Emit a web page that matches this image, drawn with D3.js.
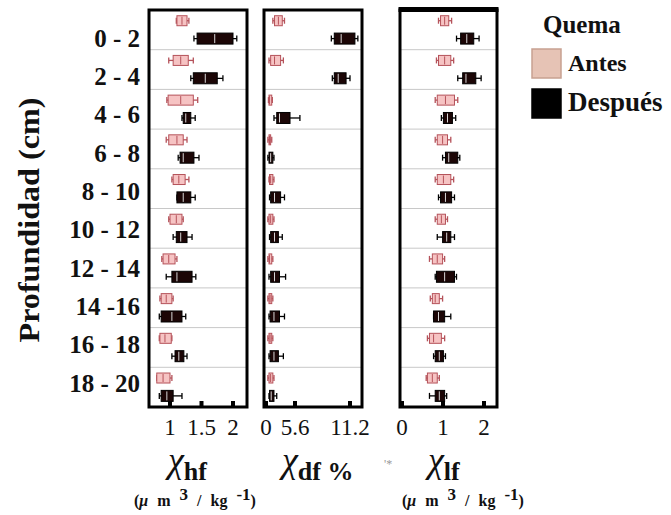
<!DOCTYPE html>
<html>
<head>
<meta charset="utf-8">
<script src="https://cdn.jsdelivr.net/npm/d3@7"></script>
<style>
  body { margin: 0; background: #fff; }
</style>
</head>
<body>
<div id="wrapper"></div>
<script>
const depths = ["0 - 2", "2 - 4", "4 - 6", "6 - 8", "8 - 10", "10 - 12", "12 - 14", "14 -16", "16 - 18", "18 - 20"];

// each entry: [min, q1, median, q3, max]
const hf_antes = [
    [1.10, 1.11, 1.19, 1.27, 1.30],
    [0.98, 1.05, 1.17, 1.29, 1.37],
    [0.95, 0.97, 1.17, 1.37, 1.44],
    [0.94, 0.98, 1.11, 1.21, 1.27],
    [1.03, 1.05, 1.14, 1.24, 1.30],
    [0.98, 1.00, 1.10, 1.19, 1.21],
    [0.87, 0.89, 0.98, 1.08, 1.11],
    [0.84, 0.86, 0.94, 1.03, 1.05],
    [0.83, 0.84, 0.92, 1.02, 1.03],
    [0.79, 0.79, 0.89, 1.00, 1.03]
];
const hf_despues = [
    [1.38, 1.43, 1.71, 2.00, 2.06],
    [1.33, 1.37, 1.56, 1.75, 1.84],
    [1.19, 1.21, 1.25, 1.33, 1.40],
    [1.13, 1.16, 1.21, 1.38, 1.46],
    [1.11, 1.11, 1.21, 1.33, 1.40],
    [1.05, 1.10, 1.17, 1.27, 1.35],
    [0.94, 1.03, 1.11, 1.35, 1.41],
    [0.83, 0.86, 1.03, 1.19, 1.25],
    [1.03, 1.08, 1.14, 1.22, 1.27],
    [0.83, 0.86, 0.95, 1.05, 1.19]
];
const df_antes = [
    [1.6, 1.9, 2.6, 3.3, 3.7],
    [0.9, 1.2, 1.9, 3.0, 3.5],
    [0.8, 0.9, 1.0, 1.4, 1.5],
    [0.7, 0.9, 1.0, 1.2, 1.4],
    [0.9, 1.0, 1.2, 1.6, 1.8],
    [0.7, 0.9, 1.2, 1.6, 1.8],
    [0.7, 0.9, 1.0, 1.4, 1.6],
    [0.7, 0.9, 1.1, 1.4, 1.6],
    [0.7, 0.9, 1.1, 1.4, 1.6],
    [0.7, 0.9, 1.2, 1.6, 1.8]
];
const df_despues = [
    [9.3, 9.6, 10.3, 11.7, 12.0],
    [9.4, 9.6, 10.0, 10.8, 11.2],
    [1.8, 2.3, 2.8, 4.7, 6.1],
    [0.7, 0.9, 1.2, 1.6, 1.8],
    [1.0, 1.2, 1.9, 3.0, 3.7],
    [1.0, 1.2, 1.9, 2.6, 3.3],
    [0.9, 1.2, 1.9, 2.8, 3.9],
    [0.9, 1.1, 1.8, 2.8, 3.7],
    [0.9, 1.1, 1.8, 2.6, 3.5],
    [0.9, 1.0, 1.3, 1.8, 2.3]
];
const lf_antes = [
    [0.89, 0.94, 1.04, 1.14, 1.21],
    [0.84, 0.89, 1.04, 1.19, 1.26],
    [0.81, 0.86, 1.06, 1.28, 1.36],
    [0.81, 0.86, 0.99, 1.11, 1.19],
    [0.81, 0.86, 1.01, 1.19, 1.26],
    [0.81, 0.86, 0.96, 1.06, 1.11],
    [0.67, 0.74, 0.86, 0.99, 1.04],
    [0.69, 0.74, 0.81, 0.91, 0.99],
    [0.62, 0.67, 0.77, 0.96, 1.04],
    [0.59, 0.62, 0.74, 0.86, 0.91]
];
const lf_despues = [
    [1.33, 1.43, 1.58, 1.75, 1.88],
    [1.36, 1.48, 1.56, 1.80, 1.93],
    [0.96, 1.01, 1.11, 1.23, 1.31],
    [0.99, 1.06, 1.14, 1.36, 1.41],
    [0.89, 0.94, 1.06, 1.21, 1.28],
    [0.86, 0.99, 1.09, 1.19, 1.28],
    [0.81, 0.84, 1.04, 1.28, 1.33],
    [0.77, 0.77, 0.89, 1.04, 1.19],
    [0.77, 0.81, 0.91, 1.01, 1.06],
    [0.67, 0.81, 0.91, 1.04, 1.09]
];

const hf_ticks = [1, 1.5, 2];
const df_ticks = [0, 5.6, 11.2];
const lf_ticks = [0, 1, 2];

const legend_labels = ["Antes", "Después"];

const width = 671, height = 515;
const plot_top = 10, plot_bottom = 407;
const serif = "'Liberation Serif', 'Times New Roman', Times, serif";

const svg = d3.select("#wrapper")
    .append("svg")
    .attr("width", width)
    .attr("height", height)
    .attr("font-family", serif)
    .style("display", "block");

const y_scale = d3.scaleBand()
    .domain(depths)
    .range([plot_top, plot_bottom]);

// depth labels are spaced a bit tighter than the rows
const label_scale = d3.scalePoint()
    .domain(depths)
    .range([38, 383]);

const antes_style = {fill: "#f6c3c3", stroke: "#b5525a", median: "#b5525a", whisker: "#b5525a", h: 10, pos: 0.27};
const despues_style = {fill: "#1c0606", stroke: "#000", median: "#d8d8d8", whisker: "#000", h: 11, pos: 0.72};

const panels = [
    {left: 149, right: 247, x: d3.scaleLinear().domain([1, 2]).range([170, 233]),
        ticks: hf_ticks, antes: hf_antes, despues: hf_despues},
    {left: 264, right: 362, x: d3.scaleLinear().domain([0, 5.6, 11.2]).range([264, 295, 350]),
        ticks: df_ticks, antes: df_antes, despues: df_despues},
    {left: 400, right: 497, x: d3.scaleLinear().domain([0, 2]).range([402, 484]),
        ticks: lf_ticks, antes: lf_antes, despues: lf_despues, thickTop: true}
];

function drawBoxes(g, x, data, s) {
    const groups = g.selectAll(null)
        .data(data)
        .enter()
        .append("g")
        .attr("transform", (d, i) => `translate(0, ${y_scale(depths[i]) + y_scale.bandwidth() * s.pos})`);

    groups.append("line")
        .attr("x1", d => x(d[0]))
        .attr("x2", d => x(d[4]))
        .attr("stroke", s.whisker)
        .attr("stroke-width", 1.3);
    groups.selectAll("line.cap")
        .data(d => [d[0], d[4]])
        .enter()
        .append("line")
        .attr("class", "cap")
        .attr("x1", v => x(v))
        .attr("x2", v => x(v))
        .attr("y1", -3)
        .attr("y2", 3)
        .attr("stroke", s.whisker)
        .attr("stroke-width", 1.3);
    groups.append("rect")
        .attr("x", d => x(d[1]))
        .attr("width", d => Math.max(1.5, x(d[3]) - x(d[1])))
        .attr("y", -s.h / 2)
        .attr("height", s.h)
        .attr("fill", s.fill)
        .attr("stroke", s.stroke)
        .attr("stroke-width", 1);
    groups.append("line")
        .attr("x1", d => x(d[2]))
        .attr("x2", d => x(d[2]))
        .attr("y1", -s.h / 2 + 1)
        .attr("y2", s.h / 2 - 1)
        .attr("stroke", s.median)
        .attr("stroke-width", 1);
}

panels.forEach(p => {
    const g = svg.append("g");

    // row separators
    g.selectAll("line.sep")
        .data(depths.slice(1))
        .enter()
        .append("line")
        .attr("x1", p.left)
        .attr("x2", p.right)
        .attr("y1", d => y_scale(d))
        .attr("y2", d => y_scale(d))
        .attr("stroke", "#c8c8c8")
        .attr("stroke-width", 1);

    drawBoxes(g, p.x, p.antes, antes_style);
    drawBoxes(g, p.x, p.despues, despues_style);

    g.append("rect")
        .attr("x", p.left)
        .attr("y", plot_top)
        .attr("width", p.right - p.left)
        .attr("height", plot_bottom - plot_top)
        .attr("fill", "none")
        .attr("stroke", "#000")
        .attr("stroke-width", 3);
    if (p.thickTop) {
        g.append("line")
            .attr("x1", p.left - 1.5)
            .attr("x2", p.right + 1.5)
            .attr("y1", plot_top - 0.5)
            .attr("y2", plot_top - 0.5)
            .attr("stroke", "#000")
            .attr("stroke-width", 5);
    }

    // inward ticks
    g.selectAll("rect.tick")
        .data(p.ticks)
        .enter()
        .append("rect")
        .attr("x", d => Math.max(p.left, p.x(d) - 2))
        .attr("y", plot_bottom - 6)
        .attr("width", 4)
        .attr("height", 6)
        .attr("fill", "#000");

    g.selectAll("text.tick")
        .data(p.ticks)
        .enter()
        .append("text")
        .attr("x", d => p.x(d) + (d === 0 && p.left === 264 ? 2 : 0))
        .attr("y", 435)
        .attr("text-anchor", "middle")
        .attr("font-size", 23)
        .attr("fill", "#111")
        .text(d => d);
});

// depth labels
svg.append("g")
    .selectAll("text")
    .data(depths)
    .enter()
    .append("text")
    .attr("x", 140)
    .attr("y", d => label_scale(d))
    .attr("dy", "0.35em")
    .attr("text-anchor", "end")
    .attr("font-size", 25)
    .attr("font-weight", "bold")
    .attr("fill", "#111")
    .text(d => d);

svg.append("text")
    .attr("transform", "translate(39, 220) rotate(-90)")
    .attr("text-anchor", "middle")
    .attr("font-size", 29)
    .attr("font-weight", "bold")
    .attr("fill", "#111")
    .attr("textLength", 245)
    .attr("lengthAdjust", "spacingAndGlyphs")
    .text("Profundidad (cm)");

// axis titles: chi symbol plus a bold subscript
function chiTitle(x, sub) {
    const chi = svg.append("text")
        .attr("x", x)
        .attr("y", 472)
        .attr("font-style", "italic")
        .attr("font-size", 36)
        .attr("fill", "#111")
        .text("χ");
    const chi_w = chi.node().getComputedTextLength();
    svg.append("text")
        .attr("x", x + chi_w)
        .attr("y", 480)
        .attr("font-weight", "bold")
        .attr("font-size", 26)
        .attr("fill", "#111")
        .text(sub);
}
chiTitle(168, "hf");
chiTitle(282, "df %");
chiTitle(428, "lf");

function unitsTitle(x) {
    const t = svg.append("text")
        .attr("x", x)
        .attr("y", 506)
        .attr("font-size", 16)
        .attr("font-weight", "bold")
        .attr("fill", "#111")
        .style("word-spacing", "5px");
    t.append("tspan").text("(");
    t.append("tspan").attr("font-style", "italic").text("μ");
    t.append("tspan").text(" m ");
    t.append("tspan").attr("dy", -6).attr("font-size", 17).text("3");
    t.append("tspan").attr("dy", 6).text(" / kg ");
    t.append("tspan").attr("dy", -6).attr("font-size", 17).text("-1");
    t.append("tspan").attr("dy", 6).text(")");
}
unitsTitle(134);
unitsTitle(402);

svg.append("text")
    .attr("x", 384)
    .attr("y", 468)
    .attr("font-size", 12)
    .attr("fill", "#999")
    .text("'*");

// legend
const legend = svg.append("g");
legend.append("text")
    .attr("x", 543)
    .attr("y", 33)
    .attr("font-size", 25)
    .attr("font-weight", "bold")
    .attr("fill", "#111")
    .text("Quema");

const legend_fill = ["#e6c3b5", "#000"];
const legend_stroke = ["#c7a191", "#000"];
const legend_size = [24, 27];
const legend_items = legend.selectAll("g")
    .data(legend_labels)
    .enter()
    .append("g")
    .attr("transform", (d, i) => `translate(0, ${49 + i * 40})`);
legend_items.append("rect")
    .attr("x", 532)
    .attr("y", 0)
    .attr("width", 29)
    .attr("height", 29)
    .attr("fill", (d, i) => legend_fill[i])
    .attr("stroke", (d, i) => legend_stroke[i])
    .attr("stroke-width", 1.5);
legend_items.append("text")
    .attr("x", 568)
    .attr("y", 22)
    .attr("font-size", (d, i) => legend_size[i])
    .attr("font-weight", "bold")
    .attr("fill", "#111")
    .text(d => d);
</script>
</body>
</html>
